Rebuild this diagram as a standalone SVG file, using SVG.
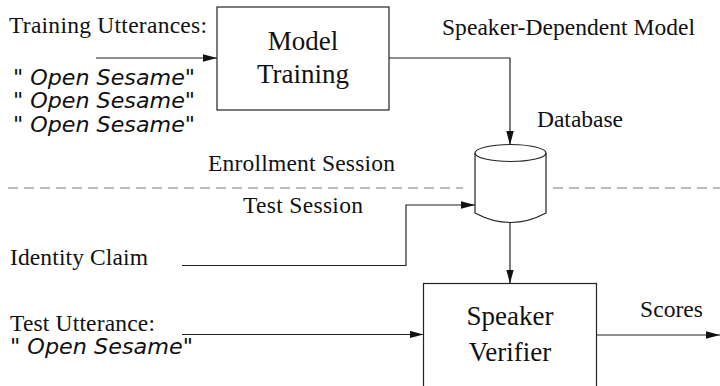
<svg xmlns="http://www.w3.org/2000/svg" width="720" height="386" viewBox="0 0 720 386">
<style>
.lbl{font-family:"Liberation Serif","Times New Roman",serif;font-size:23.5px;fill:#111}
.box{font-family:"Liberation Serif","Times New Roman",serif;font-size:27px;fill:#111;text-anchor:middle}
.it{font-family:"DejaVu Sans",sans-serif;font-style:italic;font-size:21.5px;fill:#111}
.shape{fill:#fff;stroke:#222;stroke-width:1.2}
.conn{fill:none;stroke:#222;stroke-width:1.2}
.dash{fill:none;stroke:#777;stroke-width:1.2;stroke-dasharray:10 6}
</style>
<defs>
<marker id="arr" markerUnits="userSpaceOnUse" markerWidth="15" markerHeight="8" refX="14" refY="3.75" orient="auto">
<path d="M0,0 L14,3.75 L0,7.5 z" fill="#111"/>
</marker>
</defs>
<rect width="720" height="386" fill="#fff"/>

<g id="labels">
<text class="lbl" x="9" y="33" textLength="198">Training Utterances:</text>
<text class="it" x="13" y="85" textLength="182" lengthAdjust="spacingAndGlyphs">" Open Sesame"</text>
<text class="it" x="13" y="108" textLength="182" lengthAdjust="spacingAndGlyphs">" Open Sesame"</text>
<text class="it" x="13" y="131.5" textLength="182" lengthAdjust="spacingAndGlyphs">" Open Sesame"</text>
<text class="lbl" x="442" y="35" textLength="253">Speaker-Dependent Model</text>
<text class="lbl" x="537" y="127" textLength="86">Database</text>
<text class="lbl" x="208" y="171" textLength="187">Enrollment Session</text>
<text class="lbl" x="243" y="213" textLength="120">Test Session</text>
<text class="lbl" x="10" y="265" textLength="138">Identity Claim</text>
<text class="lbl" x="10" y="330.5" textLength="145">Test Utterance:</text>
<text class="it" x="10" y="354" textLength="183" lengthAdjust="spacingAndGlyphs">" Open Sesame"</text>
<text class="lbl" x="640" y="317" textLength="63">Scores</text>
</g>

<g id="connectors">
<path class="dash" d="M8,188 H463"/>
<path class="dash" d="M553,188 H720"/>
<path class="conn" d="M96,58 H217" marker-end="url(#arr)"/>
<path class="conn" d="M389,58 H510 V145" marker-end="url(#arr)"/>
<path class="conn" d="M182,265.5 H406 V205 H475" marker-end="url(#arr)"/>
<path class="conn" d="M510,222.5 V283.5" marker-end="url(#arr)"/>
<path class="conn" d="M182,334.5 H423.5" marker-end="url(#arr)"/>
<path class="conn" d="M597,335 H720" marker-end="url(#arr)"/>
</g>

<g id="model-training">
<rect class="shape" x="217" y="7" width="172" height="103"/>
<text class="box" x="303" y="50">Model</text>
<text class="box" x="303" y="83">Training</text>
</g>

<g id="database">
<path class="shape" d="M475,153 V213 Q510.5,232 546,213 V153"/>
<ellipse class="shape" cx="510.5" cy="153" rx="35.5" ry="8.5"/>
</g>

<g id="speaker-verifier">
<rect class="shape" x="423.5" y="283.5" width="173" height="130"/>
<text class="box" x="510" y="325">Speaker</text>
<text class="box" x="510" y="361">Verifier</text>
</g>
</svg>
